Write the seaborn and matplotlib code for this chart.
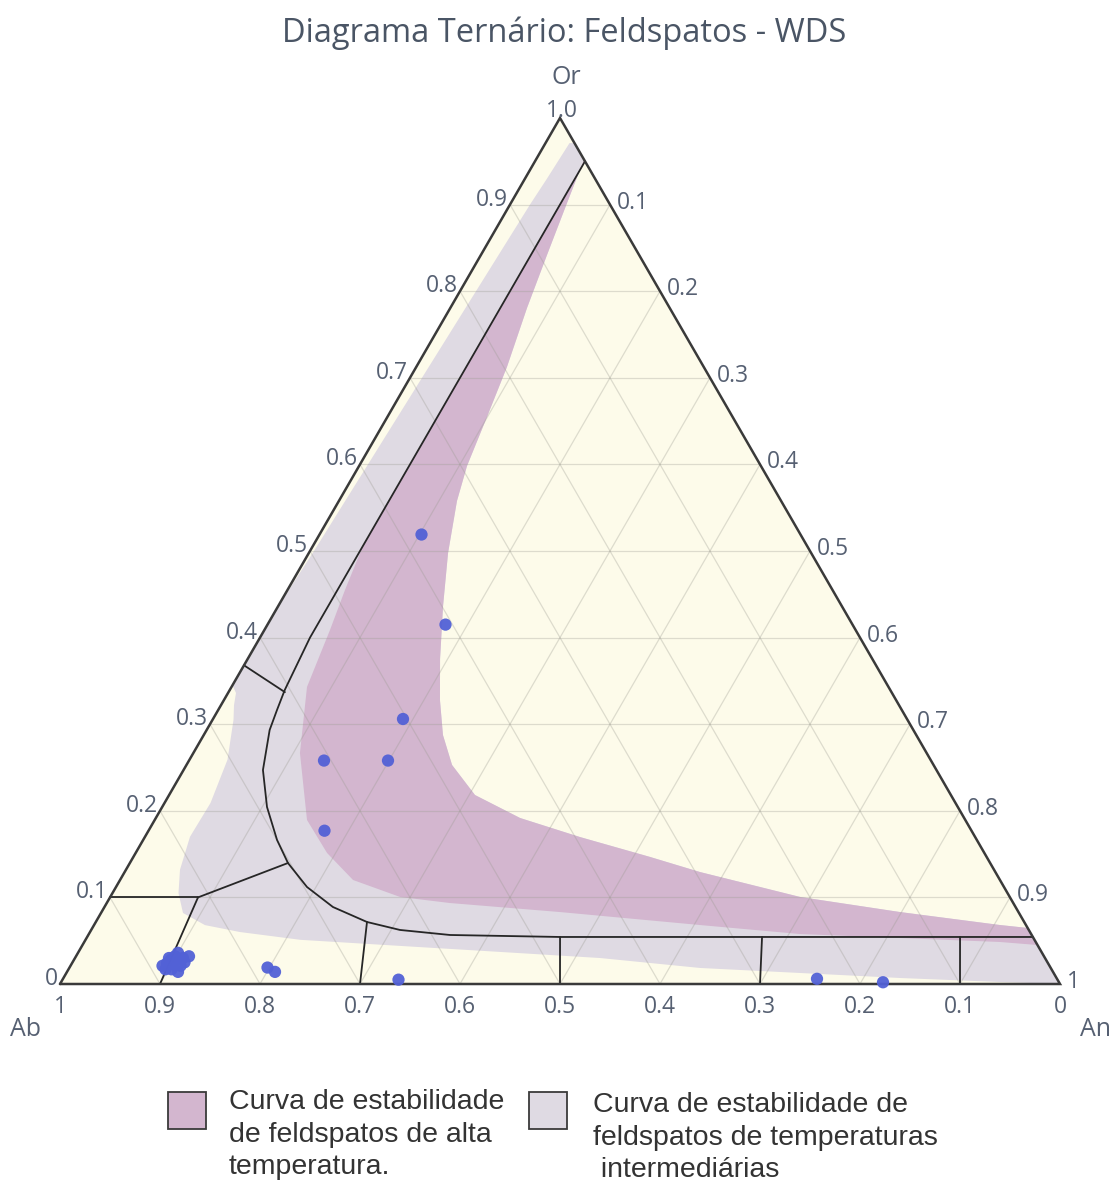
import numpy as np
import pandas as pd
import matplotlib
matplotlib.use("Agg")
import matplotlib.pyplot as plt
import seaborn as sns
from matplotlib.patches import Rectangle

# ---------------------------------------------------------------
# Feldspar analyses (WDS), mole fractions Or / An / Ab
# ---------------------------------------------------------------
sample_or = [0.021, 0.024, 0.028, 0.032, 0.036, 0.030, 0.032, 0.017, 0.014,
             0.021, 0.017, 0.023, 0.025, 0.030,
             0.519, 0.415, 0.306, 0.258, 0.258, 0.177,
             0.005, 0.019, 0.014, 0.006, 0.002]
sample_an = [0.092, 0.095, 0.097, 0.099, 0.100, 0.108, 0.113, 0.103, 0.111,
             0.110, 0.097, 0.102, 0.112, 0.094,
             0.102, 0.178, 0.190, 0.135, 0.199, 0.176,
             0.336, 0.198, 0.208, 0.754, 0.822]
sample_ab = [0.887, 0.881, 0.875, 0.869, 0.864, 0.862, 0.855, 0.880, 0.875,
             0.869, 0.886, 0.875, 0.863, 0.876,
             0.379, 0.407, 0.504, 0.607, 0.543, 0.647,
             0.659, 0.783, 0.778, 0.240, 0.176]

# Field of intermediate-temperature feldspars (outline, Or / An)
inter_or = [0.971, 0.930, 0.900, 0.800, 0.700, 0.600, 0.500, 0.450, 0.420,
            0.345, 0.336, 0.322, 0.305, 0.259, 0.209, 0.170, 0.132, 0.105,
            0.082, 0.068, 0.060, 0.051, 0.044, 0.037, 0.030, 0.0185, 0.0127,
            0.0069, 0.0023, 0.0,
            0.0647, 0.0681, 0.0831, 0.1005, 0.1293, 0.1467, 0.1697, 0.1917,
            0.2182, 0.2529, 0.2875, 0.3279, 0.3753, 0.4365, 0.4977, 0.5577,
            0.5982, 0.6547, 0.7125, 0.7806, 0.8418, 0.9018, 0.952, 0.971]
inter_an = [0.024, 0.022, 0.020, 0.016, 0.012, 0.008, 0.004, 0.001, 0.0,
            0.0, 0.008, 0.013, 0.021, 0.038, 0.046, 0.045, 0.054, 0.066,
            0.082, 0.111, 0.150, 0.215, 0.318, 0.422, 0.525, 0.631, 0.734,
            0.837, 0.939, 1.0,
            0.9353, 0.9059, 0.7984, 0.6898, 0.5753, 0.5167, 0.4351, 0.3642,
            0.3059, 0.2656, 0.2392, 0.216, 0.1924, 0.1648, 0.1392, 0.1181,
            0.1079, 0.0996, 0.0907, 0.0767, 0.0661, 0.0561, 0.048, 0.029]

# Field of high-temperature feldspars (outline, Or / An)
high_or = [0.952, 0.9018, 0.8418, 0.7806, 0.7125, 0.6547, 0.5982, 0.5577,
           0.4977, 0.4365, 0.3753, 0.3279, 0.2875, 0.2529, 0.2182, 0.1917,
           0.1697, 0.1467, 0.1293, 0.1005, 0.0831, 0.0681, 0.0647,
           0.045, 0.0485, 0.0531, 0.0577, 0.0681, 0.0831, 0.0935, 0.1005,
           0.1201, 0.1513, 0.1894, 0.2667, 0.343, 0.4088, 0.455, 0.506, 0.950]
high_an = [0.048, 0.0561, 0.0661, 0.0767, 0.0907, 0.0996, 0.1079, 0.1181,
           0.1392, 0.1648, 0.1924, 0.216, 0.2392, 0.2656, 0.3059, 0.3642,
           0.4351, 0.5167, 0.5753, 0.6898, 0.7984, 0.9059, 0.9353,
           0.955, 0.9158, 0.8134, 0.7111, 0.6059, 0.4584, 0.3432, 0.2898,
           0.233, 0.1914, 0.1523, 0.1066, 0.0755, 0.0656, 0.0575, 0.050, 0.050]

# Solvus boundary (Or / An)
solvus_or = [0.950, 0.400, 0.3395, 0.3164, 0.2933, 0.2471, 0.2044, 0.1663,
             0.1397, 0.112, 0.0889, 0.0716, 0.0624, 0.0566, 0.0543, 0.0543]
solvus_an = [0.050, 0.050, 0.055, 0.0588, 0.063, 0.0794, 0.1048, 0.1339,
             0.1581, 0.191, 0.2285, 0.2712, 0.3088, 0.3617, 0.4729, 0.9457]

# Subdivision segments: start (Or, An) -> end (Or, An)
seg_or0 = [0.368, 0.100, 0.100, 0.100, 0.0716, 0.0543, 0.0543, 0.0543]
seg_an0 = [0.000, 0.000, 0.088, 0.088, 0.2712, 0.4729, 0.6749, 0.8729]
seg_or1 = [0.337, 0.100, 0.1397, 0.000, 0.000, 0.000, 0.000, 0.000]
seg_an1 = [0.0564, 0.088, 0.1581, 0.100, 0.300, 0.500, 0.700, 0.900]

tick_values = [0.0, 0.1, 0.2, 0.3, 0.4, 0.5, 0.6, 0.7, 0.8, 0.9, 1.0]
left_labels = ["0", "0.1", "0.2", "0.3", "0.4", "0.5", "0.6", "0.7", "0.8", "0.9", "1.0"]
bottom_labels = ["1", "0.9", "0.8", "0.7", "0.6", "0.5", "0.4", "0.3", "0.2", "0.1", "0"]
right_labels = ["", "0.1", "0.2", "0.3", "0.4", "0.5", "0.6", "0.7", "0.8", "0.9", "1"]

title = "Diagrama Ternário: Feldspatos - WDS"
legend_high = "Curva de estabilidade\nde feldspatos de alta\ntemperatura."
legend_inter = "Curva de estabilidade de\nfeldspatos de temperaturas\n intermediárias"

# ---------------------------------------------------------------
H = np.sqrt(3) / 2


def to_xy(or_frac, an_frac):
    o = np.asarray(or_frac, dtype=float)
    a = np.asarray(an_frac, dtype=float)
    return a + o / 2, o * H


sns.set_theme(style="white")
plt.rcParams["font.family"] = ["Open Sans", "DejaVu Sans"]

C_CREAM = "#fdfbea"
C_INTER = "#dfdae3"
C_HIGH = "#d3b6cf"
C_TEXT = "#566072"
C_EDGE = "#3a3a3a"
C_LINE = "#262626"
C_PT = "#5261d6"

fig = plt.figure(figsize=(11.16, 11.83), dpi=100)
ax = fig.add_axes([0, 0, 1, 1])
ax.set_xlim(-0.06, 1.056)
ax.set_ylim(-0.199, 0.984)
ax.axis("off")

# triangle background
tx, ty = to_xy([0, 0, 1, 0], [0, 1, 0, 0])
ax.fill(tx, ty, color=C_CREAM, zorder=1, lw=0)

# stability fields
ix, iy = to_xy(inter_or, inter_an)
ax.fill(ix, iy, color=C_INTER, zorder=2, lw=0)
hx, hy = to_xy(high_or, high_an)
ax.fill(hx, hy, color=C_HIGH, zorder=3, lw=0)

# grid
for v in tick_values[1:-1]:
    for (o0, a0, o1, a1) in [(v, 0, v, 1 - v), (0, v, 1 - v, v), (0, 1 - v, 1 - v, 0)]:
        gx, gy = to_xy([o0, o1], [a0, a1])
        ax.plot(gx, gy, color="#9a9a90", alpha=0.32, lw=0.9, zorder=4)

# solvus and subdivisions
sx, sy = to_xy(solvus_or, solvus_an)
ax.plot(sx, sy, color=C_LINE, lw=1.3, zorder=5, solid_joinstyle="round")
for o0, a0, o1, a1 in zip(seg_or0, seg_an0, seg_or1, seg_an1):
    lx, ly = to_xy([o0, o1], [a0, a1])
    ax.plot(lx, ly, color=C_LINE, lw=1.3, zorder=5)

# triangle frame
ax.plot(tx, ty, color=C_EDGE, lw=1.8, zorder=6, solid_joinstyle="miter")

# samples
df = pd.DataFrame({"Or": sample_or, "An": sample_an, "Ab": sample_ab})
df["x"], df["y"] = to_xy(df["Or"], df["An"])
sns.scatterplot(data=df, x="x", y="y", ax=ax, color=C_PT, s=78,
                edgecolor="none", alpha=0.95, zorder=7, legend=False)
ax.set_xlabel("")
ax.set_ylabel("")

# tick labels
tick_fs = 16.5
for v, lab in zip(tick_values, left_labels):
    ex, ey = to_xy(v, 0)
    if v == 1.0:
        ax.text(ex + 0.002, ey + 0.007, lab, ha="center", va="center",
                fontsize=tick_fs, color=C_TEXT, zorder=8)
    else:
        ax.text(ex - 0.002, ey + 0.005, lab, ha="right", va="center",
                fontsize=tick_fs, color=C_TEXT, zorder=8)
for v, lab in zip(tick_values, bottom_labels):
    ax.text(v, -0.023, lab, ha="center", va="center",
            fontsize=tick_fs, color=C_TEXT, zorder=8)
for v, lab in zip(tick_values, right_labels):
    if not lab:
        continue
    ex, ey = to_xy(1 - v, v)
    ax.text(ex + 0.007, ey + 0.002, lab, ha="left", va="center",
            fontsize=tick_fs, color=C_TEXT, zorder=8)

# axis titles
ax.text(0.506, 0.906, "Or", ha="center", va="center", fontsize=18, color=C_TEXT)
ax.text(-0.034, -0.046, "Ab", ha="center", va="center", fontsize=18, color=C_TEXT)
ax.text(1.036, -0.046, "An", ha="center", va="center", fontsize=18, color=C_TEXT)

# title
fig.text(564 / 1116, 1 - 33 / 1183, title, ha="center", va="center",
         fontsize=23.5, color="#4a5565")

# legend
legend_font = ["Liberation Sans", "DejaVu Sans"]
for (px, py, col) in [(168, 1092, C_HIGH), (529, 1092, C_INTER)]:
    fig.patches.append(Rectangle((px / 1116, 1 - (py + 37) / 1183), 38 / 1116, 37 / 1183,
                                 transform=fig.transFigure, facecolor=col,
                                 edgecolor="#3a3a3a", lw=1.3))
fig.text(229 / 1116, 1 - 1089 / 1183, legend_high, ha="left", va="top",
         fontsize=20.5, color="#333333", family=legend_font, linespacing=1.33)
fig.text(593 / 1116, 1 - 1092 / 1183, legend_inter, ha="left", va="top",
         fontsize=20.5, color="#333333", family=legend_font, linespacing=1.33)

fig.savefig("out.png", dpi=100, facecolor="white")
